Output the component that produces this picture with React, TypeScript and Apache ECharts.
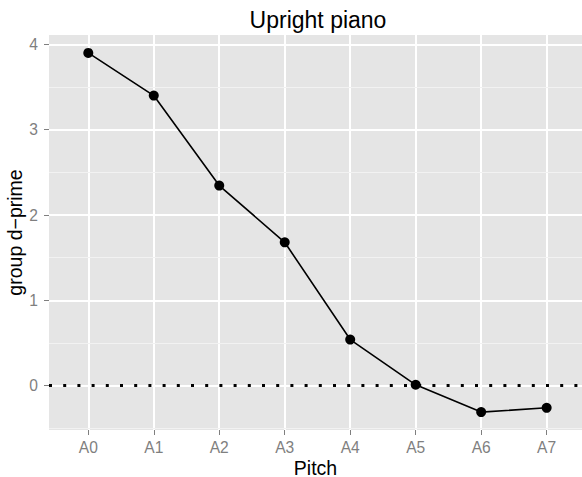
import React, { useEffect, useRef } from "react";
import * as echarts from "echarts";

const pitches = ["A0", "A1", "A2", "A3", "A4", "A5", "A6", "A7"];
const dprime = [3.9, 3.4, 2.345, 1.68, 0.54, 0.01, -0.31, -0.26];
const yMajorTicks = [0, 1, 2, 3, 4];
const yMinorLines = [-0.5, 0.5, 1.5, 2.5, 3.5];
const refLine = 0;
const chartTitle = "Upright piano";
const xTitle = "Pitch";
const yTitle = "group d\u2212prime";

const FONT = "'Liberation Sans', Arial, Helvetica, sans-serif";

export default function App() {
  const ref = useRef<HTMLDivElement>(null);
  useEffect(() => {
    if (!ref.current) return;
    const chart = echarts.init(ref.current, undefined, { renderer: "svg" });
    const xIdx = pitches.map((_, i) => i);
    chart.setOption({
      animation: false,
      graphic: [
        {
          type: "text",
          x: 318,
          y: 8,
          style: {
            text: chartTitle,
            align: "center",
            verticalAlign: "top",
            fontSize: 23,
            fontFamily: FONT,
            fill: "#000",
          },
        },
      ],
      grid: {
        left: 49,
        right: 0,
        top: 35,
        bottom: 47,
        show: true,
        backgroundColor: "#E5E5E5",
        borderWidth: 0,
        containLabel: false,
        outerBoundsMode: "none",
      },
      xAxis: {
        type: "value",
        min: -0.6,
        max: 7.54,
        name: xTitle,
        nameLocation: "middle",
        nameGap: 29,
        nameMoveOverlap: false,
        nameTextStyle: { fontSize: 19.5, lineHeight: 17, color: "#000", fontFamily: FONT },
        axisLine: { show: false, onZero: false },
        axisTick: {
          show: true,
          length: 5,
          customValues: xIdx,
          lineStyle: { color: "#7F7F7F", width: 1 },
        },
        axisLabel: {
          customValues: xIdx,
          formatter: (v: number) => pitches[Math.round(v)] ?? "",
          fontSize: 15.6,
          color: "#7F7F7F",
          fontFamily: FONT,
          margin: 9,
        },
        splitLine: { show: true, lineStyle: { color: "#FFFFFF", width: 2 } },
      },
      yAxis: {
        type: "value",
        min: -0.52,
        max: 4.11,
        name: yTitle,
        nameLocation: "middle",
        nameRotate: 90,
        nameGap: 24,
        nameMoveOverlap: false,
        nameTextStyle: { fontSize: 19.5, lineHeight: 20, color: "#000", fontFamily: FONT },
        axisLine: { show: false, onZero: false },
        axisTick: {
          show: true,
          length: 5,
          customValues: yMajorTicks,
          lineStyle: { color: "#7F7F7F", width: 1 },
        },
        axisLabel: {
          customValues: yMajorTicks,
          fontSize: 15.6,
          color: "#7F7F7F",
          fontFamily: FONT,
          margin: 11,
        },
        splitLine: { show: true, lineStyle: { color: "#FFFFFF", width: 2 } },
      },
      series: [
        {
          type: "line",
          data: [],
          z: 1,
          silent: true,
          markLine: {
            silent: true,
            symbol: "none",
            label: { show: false },
            lineStyle: { color: "#F2F2F2", width: 1, type: "solid" },
            data: yMinorLines.map((v) => ({ yAxis: v })),
          },
        },
        {
          type: "line",
          data: [],
          z: 3,
          silent: true,
          markLine: {
            silent: true,
            symbol: "none",
            label: { show: false },
            lineStyle: { color: "#000000", width: 3, type: [3, 11.2] },
            data: [{ yAxis: refLine }],
          },
        },
        {
          type: "line",
          z: 5,
          data: pitches.map((_, i) => [i, dprime[i]]),
          symbol: "circle",
          symbolSize: 10,
          lineStyle: { color: "#000000", width: 1.6 },
          itemStyle: { color: "#000000" },
        },
      ],
    });
    return () => chart.dispose();
  }, []);
  return (
    <div
      ref={ref}
      style={{ position: "absolute", left: 0, top: 0, width: 582, height: 477 }}
    />
  );
}
